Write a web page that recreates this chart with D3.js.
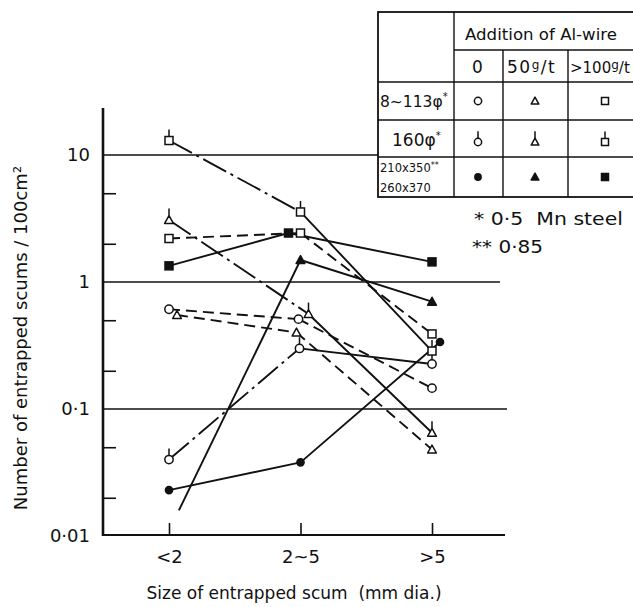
<!DOCTYPE html>
<html>
<head>
<meta charset="utf-8">
<script src="https://cdn.jsdelivr.net/npm/d3@7"></script>
<style>
  body { margin: 0; background: #fff; }
  svg { display: block; }
  text { font-family: "DejaVu Sans", sans-serif; fill: #111; white-space: pre; }
</style>
</head>
<body>
<div id="chart"></div>
<script>
// ---- data ----
const categories = ["<2", "2~5", ">5"];
const gridValues = [0.01, 0.1, 1, 10];
const gridLabels = ["0·01", "0·1", "1", "10"];
const minorValues = [0.02, 0.05, 0.2, 0.5, 2, 5];

// 8~113 phi (0.5 Mn steel)
const smallZero = [0.61, 0.51, 0.146];
const smallFifty = [0.55, 0.40, 0.048];
const smallHundred = [2.2, 2.43, 0.39];
// 160 phi (0.5 Mn steel)
const midZero = [0.04, 0.30, 0.226];
const midFifty = [3.08, 0.56, 0.065];
const midHundred = [13, 3.56, 0.286];
// 210x350 / 260x370 (0.85)
const largeZero = [0.023, 0.038, 0.337];
const largeFifty = [0.011, 1.49, 0.70];   // first point lies off the scale
const largeHundred = [1.34, 2.43, 1.44];

const legendCols = ["0", "50", ">100"];
const legendRows = ["8~113φ", "160φ", "210x350"];

// ---- layout / style ----
const W = 633, H = 607;
const frame = { left: 103, bottom: 535, top: 108, right: 505 };
const gridRight = 500;
const dashes = { solid: null, dash: "11,6", dashdot: "26,5,3,5" };
const ink = "#111";

const series = [
    { values: smallZero, shape: "circle", kind: "open", segs: ["dash", "dash"], nudge: [0, -2, 0] },
    { values: smallFifty, shape: "triangle", kind: "open", segs: ["dash", "dash"], nudge: [8, -4, 0] },
    { values: smallHundred, shape: "square", kind: "open", segs: ["dash", "dash"], nudge: [0, 0, 0] },
    { values: midZero, shape: "circle", kind: "stem", segs: ["dashdot", "solid"], nudge: [0, -1, 0] },
    { values: midFifty, shape: "triangle", kind: "stem", segs: ["dashdot", "solid"], nudge: [0, 8, 0] },
    { values: midHundred, shape: "square", kind: "stem", segs: ["dashdot", "solid"], nudge: [0, 0, 0] },
    { values: largeZero, shape: "circle", kind: "solid", segs: ["solid", "solid"], nudge: [0, 0, 8] },
    { values: largeFifty, shape: "triangle", kind: "solid", segs: ["solid", "solid"], nudge: [0, 0, 0], cut: 0.075 },
    { values: largeHundred, shape: "square", kind: "solid", segs: ["solid", "solid"], nudge: [0, -12, 0] }
];

const svg = d3.select("#chart").append("svg")
    .attr("width", W)
    .attr("height", H);

svg.append("rect").attr("width", W).attr("height", H).attr("fill", "#fff");

const x = d3.scaleLinear().domain([0, categories.length - 1]).range([169, 432]);
const y = d3.scaleLog().domain([0.01, 10]).range([536, 155]);

// gridlines at each decade
svg.append("g").selectAll("line")
    .data(gridValues.slice(1)).enter()
    .append("line")
    .attr("x1", frame.left).attr("x2", d => d === 0.1 ? gridRight + 7 : gridRight)
    .attr("y1", d => y(d)).attr("y2", d => y(d))
    .attr("stroke", ink).attr("stroke-width", 1.6);

// y axis: labels + inward minor ticks
const yLabels = svg.append("g")
    .attr("transform", "translate(" + frame.left + ",0)")
    .call(d3.axisLeft(y).tickValues(gridValues).tickFormat((d, i) => gridLabels[i]).tickSize(0).tickPadding(13));
yLabels.select(".domain").remove();
yLabels.selectAll("text").attr("font-size", 18).attr("font-family", "DejaVu Sans").attr("fill", ink);

const yMinor = svg.append("g")
    .attr("transform", "translate(" + frame.left + ",0)")
    .call(d3.axisLeft(y).tickValues(minorValues).tickFormat("").tickSizeInner(-13).tickSizeOuter(0));
yMinor.select(".domain").remove();
yMinor.selectAll("line").attr("stroke", ink).attr("stroke-width", 1.6);

// x axis: upward ticks, labels below
const xAxis = svg.append("g")
    .attr("transform", "translate(0," + frame.bottom + ")")
    .call(d3.axisBottom(x).tickValues(d3.range(categories.length))
        .tickFormat(i => categories[i]).tickSizeInner(-12).tickSizeOuter(0).tickPadding(15));
xAxis.select(".domain").remove();
xAxis.selectAll("line").attr("stroke", ink).attr("stroke-width", 1.6);
xAxis.selectAll("text").attr("font-size", 18).attr("font-family", "DejaVu Sans").attr("fill", ink);

// axis frame lines
svg.append("line")
    .attr("x1", frame.left).attr("x2", frame.left)
    .attr("y1", frame.top).attr("y2", frame.bottom + 1)
    .attr("stroke", ink).attr("stroke-width", 2.6);
svg.append("line")
    .attr("x1", frame.left).attr("x2", frame.right)
    .attr("y1", frame.bottom).attr("y2", frame.bottom)
    .attr("stroke", ink).attr("stroke-width", 2);

// axis titles
svg.append("text")
    .attr("transform", "translate(27,338) rotate(-90)")
    .attr("text-anchor", "middle")
    .attr("font-size", 18)
    .text("Number of entrapped scums / 100cm²");

svg.append("text")
    .attr("x", 294).attr("y", 599)
    .attr("text-anchor", "middle")
    .attr("font-size", 17)
    .text("Size of entrapped scum  (mm dia.)");

// ---- markers ----
function marker(g, shape, kind, cx, cy, s) {
    const fill = kind === "solid" ? ink : "#fff";
    let top;
    if (shape === "circle") {
        const r = kind === "solid" ? s * 0.45 : s * 0.52;
        g.append("circle").attr("cx", cx).attr("cy", cy).attr("r", r)
            .attr("fill", fill).attr("stroke", ink).attr("stroke-width", 1.5);
        top = cy - r;
    } else if (shape === "square") {
        g.append("rect").attr("x", cx - s / 2).attr("y", cy - s / 2)
            .attr("width", s).attr("height", s)
            .attr("fill", fill).attr("stroke", ink).attr("stroke-width", 1.5);
        top = cy - s / 2;
    } else {
        const h = s * 0.55;
        g.append("path")
            .attr("d", "M" + cx + "," + (cy - h) + "L" + (cx + h) + "," + (cy + h * 0.8) + "L" + (cx - h) + "," + (cy + h * 0.8) + "Z")
            .attr("fill", fill).attr("stroke", ink).attr("stroke-width", 1.5).attr("stroke-linejoin", "round");
        top = cy - h;
    }
    if (kind === "stem") {
        g.append("line").attr("x1", cx).attr("x2", cx).attr("y1", top).attr("y2", top - 7)
            .attr("stroke", ink).attr("stroke-width", 1.5);
    }
}

// ---- series lines ----
const lineLayer = svg.append("g");
const markLayer = svg.append("g");

series.forEach(s => {
    const pts = s.values.map((v, i) => [x(i) + s.nudge[i], y(v)]);
    for (let i = 0; i < pts.length - 1; i++) {
        let p0 = pts[i];
        const p1 = pts[i + 1];
        if (i === 0 && s.cut) {
            p0 = [p0[0] + (p1[0] - p0[0]) * s.cut, p0[1] + (p1[1] - p0[1]) * s.cut];
        }
        lineLayer.append("line")
            .attr("x1", p0[0]).attr("y1", p0[1])
            .attr("x2", p1[0]).attr("y2", p1[1])
            .attr("stroke", ink).attr("stroke-width", 1.9)
            .attr("stroke-dasharray", dashes[s.segs[i]]);
    }
    pts.forEach((p, i) => {
        if (i === 0 && s.cut) return;
        marker(markLayer, s.shape, s.kind, p[0], p[1], 8);
    });
});

// ---- legend table ----
const colEdges = [378, 454, 503, 568, 642];
const rowEdges = [12, 50, 82, 120, 157, 197];
const table = svg.append("g");

table.append("rect")
    .attr("x", colEdges[0]).attr("y", rowEdges[0])
    .attr("width", colEdges[4] - colEdges[0]).attr("height", rowEdges[5] - rowEdges[0])
    .attr("fill", "#fff").attr("stroke", ink).attr("stroke-width", 1.8);

// horizontal rules
rowEdges.slice(1, 5).forEach((ry, i) => {
    table.append("line")
        .attr("x1", i === 0 ? colEdges[1] : colEdges[0]).attr("x2", colEdges[4])
        .attr("y1", ry).attr("y2", ry)
        .attr("stroke", ink).attr("stroke-width", 1.4);
});
// vertical rules
colEdges.slice(1, 4).forEach((cx, i) => {
    table.append("line")
        .attr("x1", cx).attr("x2", cx)
        .attr("y1", i === 0 ? rowEdges[0] : rowEdges[1]).attr("y2", rowEdges[5])
        .attr("stroke", ink).attr("stroke-width", 1.4);
});

table.append("text")
    .attr("x", 465).attr("y", 40)
    .attr("font-size", 15.5)
    .attr("textLength", 152).attr("lengthAdjust", "spacingAndGlyphs")
    .text("Addition of Al-wire");

const headX = [472, 507, 570];
const headSize = [17, 17, 15];
const headSpacing = [0, 1.5, 0];
legendCols.forEach((c, i) => {
    const t = table.append("text")
        .attr("x", headX[i]).attr("y", 73)
        .attr("font-size", headSize[i])
        .attr("letter-spacing", headSpacing[i]);
    t.append("tspan").text(c);
    if (i > 0) {
        t.append("tspan").attr("font-size", 12).attr("dy", -4).text("g");
        t.append("tspan").attr("dy", 4).text("/t");
    }
});

const rowCenters = [101, 139, 177];
const shapes = ["circle", "triangle", "square"];
const kinds = ["open", "stem", "solid"];
const symbolX = [478, 535, 605];

// row headers
const r0 = table.append("text").attr("x", 380).attr("y", 107).attr("font-size", 15.5);
r0.append("tspan").text(legendRows[0]);
r0.append("tspan").attr("font-size", 10).attr("dy", -7).text("*");

const r1 = table.append("text").attr("x", 392).attr("y", 146).attr("font-size", 17);
r1.append("tspan").text(legendRows[1]);
r1.append("tspan").attr("font-size", 10).attr("dy", -7).text("*");

const r2 = table.append("text").attr("x", 380).attr("y", 172).attr("font-size", 11.5);
r2.append("tspan").text(legendRows[2]);
r2.append("tspan").attr("font-size", 8).attr("dy", -4).text("**");
table.append("text").attr("x", 380).attr("y", 192).attr("font-size", 11.5).text("260x370");

kinds.forEach((k, ri) => {
    shapes.forEach((sh, ci) => {
        marker(table, sh, k, symbolX[ci], rowCenters[ri] + (k === "stem" ? 3 : 0), 7);
    });
});

// ---- footnotes ----
svg.append("text")
    .attr("x", 474).attr("y", 225)
    .attr("font-size", 17)
    .attr("textLength", 149).attr("lengthAdjust", "spacingAndGlyphs")
    .text("* 0·5  Mn steel");
svg.append("text")
    .attr("x", 472).attr("y", 253)
    .attr("font-size", 17)
    .attr("textLength", 71).attr("lengthAdjust", "spacingAndGlyphs")
    .text("** 0·85");
</script>
</body>
</html>
